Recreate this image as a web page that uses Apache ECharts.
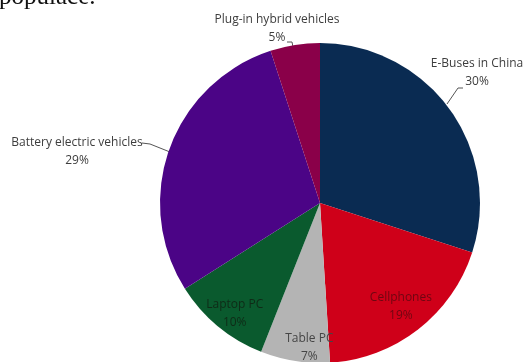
<!DOCTYPE html>
<html>
<head>
<meta charset="utf-8">
<script src="https://cdn.jsdelivr.net/npm/echarts@6/dist/echarts.min.js"></script>
<style>
html,body{margin:0;padding:0;background:#fff;}
#c{width:525px;height:362px;}
</style>
</head>
<body>
<div id="c"></div>
<script>
const categories = ['E-Buses in China', 'Cellphones', 'Table PC', 'Laptop PC', 'Battery electric vehicles', 'Plug-in hybrid vehicles'];
const values = [30, 19, 7, 10, 29, 5];

const sliceColors = ['#0a2b52', '#cf0019', '#b4b4b4', '#0a5a2e', '#4b0486', '#8a0049'];
const innerLabelColors = { 1: '#6e0612', 2: '#454545', 3: '#0f2b17' };
const outerIdx = [0, 4, 5];
const innerIdx = [1, 2, 3];

const CX = 320, CY = 203, R = 160;
const FONT = '"Open Sans", "DejaVu Sans", sans-serif';

// label placement for outside labels (layout only)
const outerLayout = {
  0: { x: 477, y: 73, line: [[447, 104], [458, 88], [463, 88]] },
  4: { x: 77, y: 152, line: [[170, 152], [150, 144], [142, 143]] },
  5: { x: 277, y: 29, line: [[293, 47], [292, 42], [287, 42]] }
};
const innerShift = { 1: [-4, -6], 2: [11, 8], 3: [3, 4] };

const data = categories.map((n, i) => ({ name: n, value: values[i] }));

const chart = echarts.init(document.getElementById('c'), null, { renderer: 'canvas' });
chart.setOption({
  animation: false,
  backgroundColor: '#fff',
  graphic: [{
    type: 'text', x: -1, y: -15,
    style: { text: 'populace.', font: '25px "Liberation Serif", serif', fill: '#111' }
  }],
  series: [
    {
      type: 'pie',
      center: [CX, CY],
      radius: R,
      startAngle: 90,
      clockwise: true,
      silent: true,
      data: data.map((d, i) => ({
        name: d.name, value: d.value,
        itemStyle: { color: sliceColors[i] },
        label: { show: outerIdx.includes(i) },
        labelLine: { show: outerIdx.includes(i) }
      })),
      label: {
        position: 'outside',
        overflow: 'none',
        alignTo: 'none',
        formatter: '{b}\n{c}%',
        fontFamily: FONT, fontSize: 12, color: '#3d3d3d', lineHeight: 18
      },
      labelLine: { lineStyle: { color: '#555', width: 1 } },
      labelLayout: function (p) {
        const L = outerLayout[p.dataIndex];
        if (!L) return {};
        return { x: L.x, y: L.y, align: 'center', verticalAlign: 'middle', labelLinePoints: L.line };
      }
    },
    {
      type: 'pie',
      center: [CX, CY],
      radius: [111, R],
      startAngle: 90,
      clockwise: true,
      silent: true,
      itemStyle: { color: 'transparent' },
      data: data.map((d, i) => ({
        name: d.name, value: d.value,
        label: { show: innerIdx.includes(i), color: innerLabelColors[i] || '#000' }
      })),
      label: {
        position: 'inside',
        overflow: 'none',
        formatter: '{b}\n{c}%',
        fontFamily: FONT, fontSize: 12, lineHeight: 18
      },
      labelLine: { show: false },
      labelLayout: function (p) {
        const s = innerShift[p.dataIndex];
        return s ? { dx: s[0], dy: s[1] } : {};
      }
    }
  ]
});
</script>
</body>
</html>
